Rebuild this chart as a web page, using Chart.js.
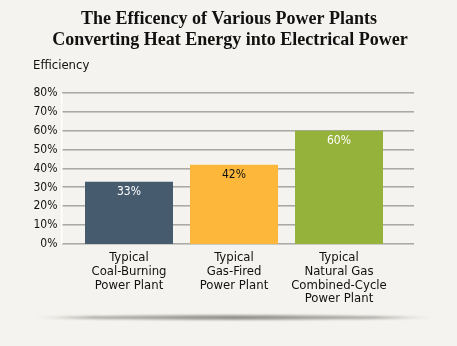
<!DOCTYPE html>
<html>
<head>
<meta charset="utf-8">
<script src="https://cdn.jsdelivr.net/npm/chart.js@4.4.0/dist/chart.umd.min.js"></script>
<style>
  html, body { margin: 0; padding: 0; background: #f4f3ef; }
  #wrap { width: 457px; height: 346px; position: relative; }
</style>
</head>
<body>
<div id="wrap"><canvas id="plantChart" width="457" height="346"></canvas></div>
<script>
// chart data
const titleLines = ["The Efficency of Various Power Plants", "Converting Heat Energy into Electrical Power"];
const plantLabels = [
  ["Typical", "Coal-Burning", "Power Plant"],
  ["Typical", "Gas-Fired", "Power Plant"],
  ["Typical", "Natural Gas", "Combined-Cycle", "Power Plant"]
];
const efficiency = [33, 42, 60];
const barColors = ["#465b6e", "#fdb83b", "#95b33b"];
const valueColors = ["#ffffff", "#111111", "#ffffff"];
const yTicks = [0, 10, 20, 30, 40, 50, 60, 70, 80];

const sans = "'DejaVu Sans Condensed', 'DejaVu Sans'";

// gridlines that run a bit wider than the bars, title, caption and the shadow under the card
const extraGrid = {
  id: "extraGrid",
  beforeDatasetsDraw(chart) {
    const { ctx, scales: { y } } = chart;
    ctx.save();
    y.ticks.forEach(t => {
      const py = Math.round(y.getPixelForValue(t.value));
      ctx.fillStyle = "#a9a9a5";
      ctx.fillRect(62, py - 1, 352, 1);
      ctx.fillStyle = "#c9c9c5";
      ctx.fillRect(62, py, 352, 1);
    });
    // white axis line
    ctx.fillStyle = "#ffffff";
    ctx.fillRect(61, y.getPixelForValue(80), 1.5, y.getPixelForValue(0) - y.getPixelForValue(80));
    ctx.restore();
  },
  afterDraw(chart) {
    const { ctx } = chart;
    ctx.save();
    // shadow
    const g = ctx.createLinearGradient(35, 0, 433, 0);
    g.addColorStop(0, "rgba(120,120,115,0)");
    g.addColorStop(0.15, "rgba(120,120,115,0.55)");
    g.addColorStop(0.5, "rgba(110,110,105,0.75)");
    g.addColorStop(0.85, "rgba(120,120,115,0.55)");
    g.addColorStop(1, "rgba(120,120,115,0)");
    ctx.filter = "blur(1px)";
    ctx.fillStyle = g;
    ctx.beginPath();
    ctx.ellipse(234, 317.5, 199, 2.2, 0, 0, Math.PI * 2);
    ctx.fill();
    ctx.filter = "none";

    // title
    ctx.fillStyle = "#111";
    ctx.font = "bold 18px 'Liberation Serif'";
    ctx.textAlign = "center";
    ctx.textBaseline = "middle";
    ctx.fillText(titleLines[0], 229, 19.5);
    ctx.fillText(titleLines[1], 230, 40.5);

    // y axis caption
    ctx.font = "13px " + sans;
    ctx.textAlign = "left";
    ctx.fillText("Efficiency", 33, 66);

    // values inside bars
    ctx.font = "12px " + sans;
    ctx.textAlign = "center";
    chart.getDatasetMeta(0).data.forEach((bar, i) => {
      ctx.fillStyle = valueColors[i];
      ctx.fillText(efficiency[i] + "%", bar.x, bar.y + 10);
    });
    ctx.restore();
  }
};

new Chart(document.getElementById("plantChart"), {
  type: "bar",
  data: {
    labels: plantLabels,
    datasets: [{
      data: efficiency,
      backgroundColor: barColors,
      categoryPercentage: 1,
      barPercentage: 0.838
    }]
  },
  options: {
    responsive: false,
    animation: false,
    layout: { padding: { left: 0, right: 65.5, top: 93, bottom: 0 } },
    plugins: {
      legend: { display: false },
      tooltip: { enabled: false },
      title: { display: false }
    },
    scales: {
      x: {
        grid: { display: false, drawTicks: false },
        border: { display: false },
        ticks: {
          color: "#111",
          font: { family: sans, size: 13, lineHeight: 1.05 },
          padding: 7,
          maxRotation: 0,
          autoSkip: false
        },
        afterFit(scale) { scale.height = 102; }
      },
      y: {
        min: 0,
        max: 80,
        afterBuildTicks(scale) { scale.ticks = yTicks.map(v => ({ value: v })); },
        grid: { display: false, drawTicks: false },
        border: { display: false },
        ticks: {
          color: "#111",
          font: { family: sans, size: 12 },
          padding: 19,
          callback: v => v + "%"
        },
        afterFit(scale) { scale.width = 76.5; }
      }
    }
  },
  plugins: [extraGrid]
});
</script>
</body>
</html>
